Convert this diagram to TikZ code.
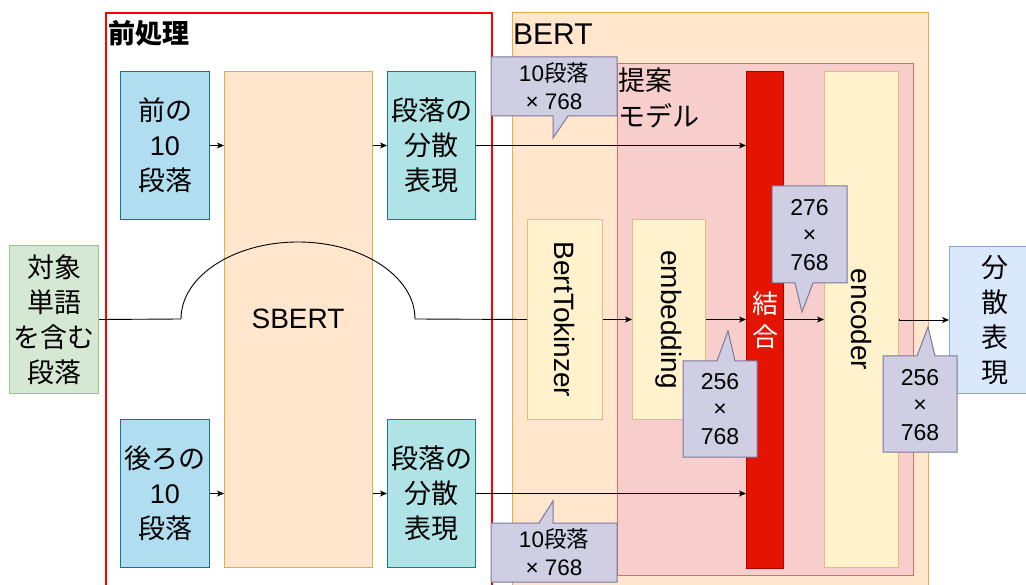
\documentclass[tikz,border=0pt]{standalone}
\usepackage{fontspec}
\setmainfont{Liberation Sans}
\newfontfamily\jp{Noto Sans CJK JP}
\usetikzlibrary{arrows.meta}
\definecolor{bluefill}{HTML}{B1DDF0}
\definecolor{bluedraw}{HTML}{10739E}
\definecolor{tealfill}{HTML}{B0E3E6}
\definecolor{tealdraw}{HTML}{0E8088}
\definecolor{orfill}{HTML}{FFE6CC}
\definecolor{ordraw}{HTML}{E0AE4A}
\definecolor{redfill}{HTML}{F8CECC}
\definecolor{reddraw}{HTML}{D0706C}
\definecolor{yelfill}{HTML}{FFF2CC}
\definecolor{yeldraw}{HTML}{E0C070}
\definecolor{ketfill}{HTML}{E51400}
\definecolor{ketdraw}{HTML}{B20000}
\definecolor{calfill}{HTML}{D0CEE2}
\definecolor{caldraw}{HTML}{7B77A0}
\definecolor{grfill}{HTML}{D5E8D4}
\definecolor{grdraw}{HTML}{9CC38A}
\definecolor{outfill}{HTML}{DAE8FC}
\definecolor{outdraw}{HTML}{8AA6D0}
\begin{document}
\begin{tikzpicture}[x=1pt,y=-1pt,
  nw/.style={anchor=north west, inner sep=0pt, align=center, line width=1pt},
  bigtext/.style={font=\fontsize{27}{35}\selectfont},
  caltext/.style={font=\fontsize{22.5}{28}\selectfont, align=center, inner sep=0pt},
  numtext/.style={font=\fontsize{23}{27.5}\selectfont, align=center, inner sep=0pt},
  bluebox/.style={nw, bigtext, draw=bluedraw, fill=bluefill},
  tealbox/.style={nw, bigtext, draw=tealdraw, fill=tealfill},
  orbox/.style={nw, draw=ordraw, fill=orfill},
  yelbox/.style={nw, draw=yeldraw, fill=yelfill},
  callout/.style={draw=caldraw, fill=calfill, line width=1pt, line join=miter},
  link/.style={draw=black, line width=0.9pt},
  arr/.style={link, -{Stealth[length=7pt,width=6pt,inset=2pt]}},
  rot/.style={font=\fontsize{28}{30}\selectfont, rotate=-90, inner sep=0pt}
]
\clip (0,0) rectangle (1026,585);
\fill[white] (0,0) rectangle (1026,585);

% pre-processing frame
\node[nw, draw=red, line width=2pt, minimum width=386, minimum height=600] (pre) at (105,12) {};
\node[anchor=west, inner sep=0pt, font=\jp\bfseries\fontsize{27}{30}\selectfont] (prelbl) at (108,33) {前処理};

% left boxes
\node[nw, bigtext, draw=grdraw, fill=grfill, minimum width=89, minimum height=148] (obj) at (9,245)
  {{\jp 対象}\\{\jp 単語}\\{\jp を含む}\\{\jp 段落}};
\node[bluebox, minimum width=89, minimum height=148] (p1) at (120,71) {{\jp 前の}\\10\\{\jp 段落}};
\node[bluebox, minimum width=89, minimum height=148] (p2) at (120,419) {{\jp 後ろの}\\10\\{\jp 段落}};
\node[orbox, minimum width=148, minimum height=496] (sb) at (224,71) {};
\node[font=\fontsize{28}{30}\selectfont, inner sep=0pt] (sblbl) at (298,319) {SBERT};
\node[tealbox, minimum width=88, minimum height=148] (d1) at (387,71) {{\jp 段落の}\\{\jp 分散}\\{\jp 表現}};
\node[tealbox, minimum width=88, minimum height=148] (d2) at (387,419) {{\jp 段落の}\\{\jp 分散}\\{\jp 表現}};

% BERT
\node[orbox, minimum width=416, minimum height=600] (bert) at (512,12) {};
\node[anchor=west, inner sep=0pt, font=\fontsize{30}{32}\selectfont] (bertlbl) at (513,34) {BERT};
\node[nw, draw=reddraw, fill=redfill, minimum width=296, minimum height=512] (prop) at (617,63) {};
\node[anchor=north west, inner sep=0pt, align=left, font=\jp\fontsize{27}{36}\selectfont] (proplbl) at (618,68) {提案\\モデル};
\node[yelbox, minimum width=75, minimum height=200] (tok) at (527,219) {};
\node[rot] at (tok.center) {BertTokinzer};
\node[yelbox, minimum width=73, minimum height=200] (emb) at (632,219) {};
\node[rot] at (emb.center) {embedding};
\node[nw, draw=ketdraw, fill=ketfill, minimum width=37, minimum height=497] (ket) at (746,71) {};
\node[text=white, inner sep=0pt, align=center, font=\jp\fontsize{26}{33}\selectfont] (ketlbl) at (ket.center) {結\\合};
\node[yelbox, minimum width=74, minimum height=496] (enc) at (824,71) {};
\node[rot] at (enc.center) {encoder};

% output
\node[nw, bigtext, draw=outdraw, fill=outfill, minimum width=90, minimum height=147] (out) at (949,246)
  {{\jp 分}\\{\jp 散}\\{\jp 表}\\{\jp 現}};

% connectors
\draw[arr] (p1.east) -- (p1.east -| sb.west);
\draw[arr] (p1.east -| sb.east) -- (d1.west);
\draw[arr] (p2.east) -- (p2.east -| sb.west);
\draw[arr] (p2.east -| sb.east) -- (d2.west);
\draw[arr] (d1.east) -- (d1.east -| ket.west);
\draw[arr] (d2.east) -- (d2.east -| ket.west);
\coordinate (j1) at (181,319);
\coordinate (jt) at (298,242);
\coordinate (j2) at (415,319);
\draw[link] (obj.east) -- (j1) .. controls (181,276.5) and (233.4,242) .. (jt)
  .. controls (362.6,242) and (415,276.5) .. (j2) -- (tok.west);
\draw[arr] (tok.east) -- (emb.west);
\draw[arr] (emb.east) -- (emb.east -| ket.west);
\draw[arr] (ket.east |- enc.west) -- (enc.west);
\draw[arr] (enc.east) -- (enc.east |- out.west) -- (out.west);

% callouts
\draw[callout] (491,57) -- (617,57) -- (617,116) -- (568,116) -- (553,138) -- (553,116) -- (491,116) -- cycle;
\node[caltext] (c1) at (554,86) {10{\jp 段落}\\× 768};
\draw[callout] (491,523) -- (539,523) -- (553,501) -- (553,523) -- (617,523) -- (617,582) -- (491,582) -- cycle;
\node[caltext] (c2) at (554,552) {10{\jp 段落}\\× 768};
\draw[callout] (683,361) -- (717,361) -- (728,331) -- (735,361) -- (757,361) -- (757,457) -- (683,457) -- cycle;
\node[numtext] (c3) at (720,409) {256\\×\\768};
\draw[callout] (772,186) -- (847,186) -- (847,283) -- (813,283) -- (802,312) -- (795,283) -- (772,283) -- cycle;
\node[numtext] (c4) at (809.5,235) {276\\×\\768};
\draw[callout] (883,356) -- (917,356) -- (928,327) -- (935,356) -- (957,356) -- (957,452) -- (883,452) -- cycle;
\node[numtext] (c5) at (920,405) {256\\×\\768};
\end{tikzpicture}
\end{document}
